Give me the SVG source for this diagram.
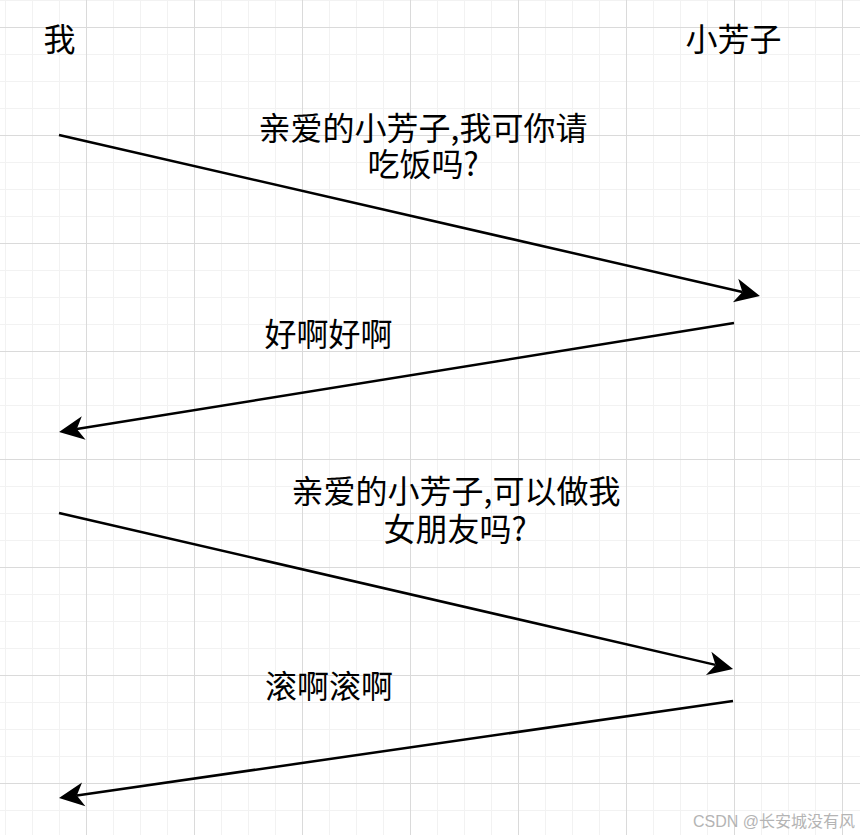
<svg xmlns="http://www.w3.org/2000/svg" width="860" height="835" viewBox="0 0 860 835">
<style>
.minor{stroke:#f2f2f2;stroke-width:1;fill:none}
.major{stroke:#dadada;stroke-width:1;fill:none}
.lbl{font-family:"Microsoft YaHei","Noto Sans CJK SC",sans-serif;font-size:32px;fill:#000;text-anchor:middle}
.conn{stroke:#000;stroke-width:2.5;fill:none}
.wm{font-family:"Liberation Sans","Noto Sans CJK SC",sans-serif;font-size:16px;fill:#b4b4b4;text-anchor:end}
</style>
<defs>
<marker id="arrow" markerUnits="userSpaceOnUse" viewBox="-8 -13 27 26" refX="0" refY="0" markerWidth="27" markerHeight="26" orient="auto">
<path d="M18,0 L-7,-12 L0,0 L-7,12 Z" fill="#000"/>
</marker>
</defs>
<rect x="0" y="0" width="860" height="835" fill="#ffffff"/>
<g id="grid">
<path class="minor" d="M5.5,0V835M32.5,0V835M59.5,0V835M113.5,0V835M140.5,0V835M167.5,0V835M221.5,0V835M248.5,0V835M275.5,0V835M329.5,0V835M356.5,0V835M383.5,0V835M437.5,0V835M464.5,0V835M491.5,0V835M545.5,0V835M572.5,0V835M599.5,0V835M653.5,0V835M680.5,0V835M707.5,0V835M761.5,0V835M788.5,0V835M815.5,0V835"/>
<path class="minor" d="M0,0.5H860M0,54.5H860M0,81.5H860M0,108.5H860M0,162.5H860M0,189.5H860M0,216.5H860M0,270.5H860M0,297.5H860M0,324.5H860M0,378.5H860M0,405.5H860M0,432.5H860M0,486.5H860M0,513.5H860M0,540.5H860M0,594.5H860M0,621.5H860M0,648.5H860M0,702.5H860M0,729.5H860M0,756.5H860M0,810.5H860"/>
<path class="major" d="M86.5,0V835M194.5,0V835M302.5,0V835M410.5,0V835M518.5,0V835M626.5,0V835M734.5,0V835M842.5,0V835"/>
<path class="major" d="M0,27.5H860M0,135.5H860M0,243.5H860M0,351.5H860M0,459.5H860M0,567.5H860M0,675.5H860M0,783.5H860"/>
</g>
<g id="me"><text class="lbl" x="59.5" y="51">我</text></g>
<g id="xiaofangzi"><text class="lbl" x="733.5" y="51">小芳子</text></g>
<g id="connectors">
<path class="conn" d="M59,135 L742.4,292" marker-end="url(#arrow)"/>
<path class="conn" d="M734,323 L76.8,429.1" marker-end="url(#arrow)"/>
<path class="conn" d="M59,513 L715.5,664.9" marker-end="url(#arrow)"/>
<path class="conn" d="M733,701 L76.8,795.4" marker-end="url(#arrow)"/>
</g>
<g id="msg1"><text class="lbl"><tspan x="423" y="140">亲爱的小芳子,我可你请</tspan><tspan x="423" y="176">吃饭吗?</tspan></text></g>
<g id="msg2"><text class="lbl" x="328.5" y="346">好啊好啊</text></g>
<g id="msg3"><text class="lbl"><tspan x="456" y="503">亲爱的小芳子,可以做我</tspan><tspan x="455" y="541">女朋友吗?</tspan></text></g>
<g id="msg4"><text class="lbl" x="329" y="698">滚啊滚啊</text></g>
<text class="wm" x="855" y="827">CSDN @长安城没有风</text>
</svg>
